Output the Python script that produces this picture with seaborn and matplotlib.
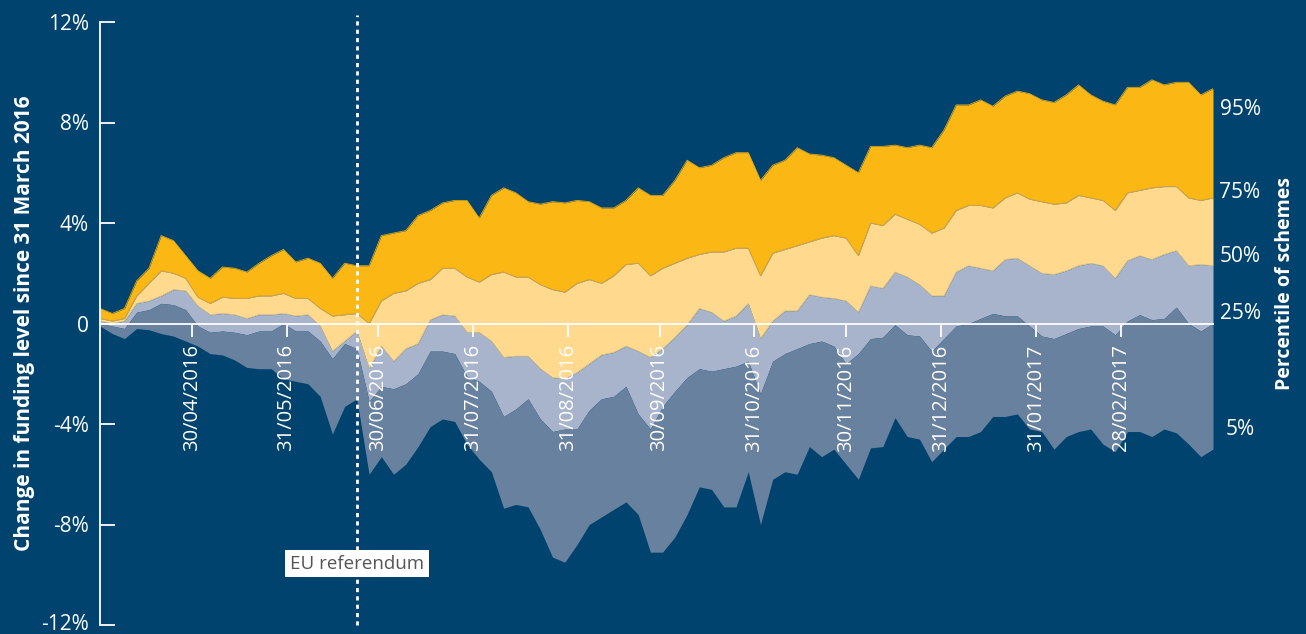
import pandas as pd
import seaborn as sns
import matplotlib.pyplot as plt
import matplotlib.transforms as mtransforms

# Percentiles of the change in funding level (%), read every 4 days from 31/03/2016
dates = pd.date_range("2016-03-31", periods=92, freq="4D")
p95 = [0.6, 0.4, 0.6, 1.7, 2.2, 3.5, 3.3, 2.7, 2.1, 1.8,
       2.25, 2.2, 2.05, 2.4, 2.7, 2.95, 2.45, 2.6, 2.4, 1.8,
       2.4, 2.3, 2.3, 3.5, 3.6, 3.7, 4.3, 4.5, 4.8, 4.9,
       4.9, 4.2, 5.1, 5.4, 5.2, 4.85, 4.75, 4.85, 4.8, 4.9,
       4.85, 4.6, 4.6, 4.9, 5.4, 5.1, 5.1, 5.7, 6.5, 6.2,
       6.3, 6.6, 6.8, 6.8, 5.7, 6.3, 6.5, 7.0, 6.75, 6.7,
       6.6, 6.3, 6.0, 7.05, 7.05, 7.1, 7.0, 7.1, 7.0, 7.7,
       8.7, 8.7, 8.9, 8.65, 9.05, 9.25, 9.15, 8.9, 8.8, 9.1,
       9.5, 9.1, 8.85, 8.7, 9.4, 9.4, 9.7, 9.5, 9.6, 9.6,
       9.1, 9.35]
p75 = [0.2, 0.1, 0.2, 1.1, 1.6, 2.1, 2.0, 1.8, 1.05, 0.8,
       1.05, 1.0, 1.0, 1.1, 1.1, 1.2, 1.0, 1.0, 0.6, 0.3,
       0.35, 0.4, 0.0, 0.9, 1.2, 1.3, 1.6, 1.75, 2.2, 2.2,
       1.85, 1.65, 1.95, 2.05, 1.85, 1.85, 1.55, 1.35, 1.25, 1.6,
       1.75, 1.6, 1.9, 2.35, 2.4, 1.9, 2.2, 2.4, 2.6, 2.75,
       2.85, 2.85, 3.0, 3.0, 1.9, 2.8, 2.95, 3.1, 3.25, 3.4,
       3.5, 3.4, 2.7, 4.0, 3.9, 4.35, 4.15, 3.95, 3.6, 3.8,
       4.5, 4.7, 4.7, 4.6, 5.0, 5.2, 4.95, 4.85, 4.75, 4.8,
       5.1, 5.0, 4.9, 4.5, 5.2, 5.3, 5.4, 5.45, 5.45, 5.0,
       4.9, 5.0]
p50 = [0.1, 0.0, 0.1, 0.8, 0.9, 1.1, 1.35, 1.3, 0.7, 0.35,
       0.4, 0.35, 0.2, 0.35, 0.35, 0.4, 0.3, 0.35, -0.1, -1.1,
       -0.7, -0.3, -1.8, -0.9, -1.5, -1.0, -0.8, 0.15, 0.35, 0.3,
       -0.35, -0.35, -0.7, -1.35, -1.3, -1.3, -1.8, -2.15, -2.2, -1.95,
       -1.6, -1.25, -1.15, -0.9, -1.1, -1.35, -1.0, -0.55, -0.05, 0.6,
       0.45, 0.1, 0.3, 0.8, -0.6, 0.1, 0.5, 0.5, 1.15, 1.05,
       1.0, 0.9, 0.45, 1.5, 1.4, 2.05, 1.85, 1.55, 1.1, 1.1,
       2.05, 2.3, 2.2, 2.1, 2.55, 2.6, 2.3, 2.0, 1.95, 2.1,
       2.3, 2.4, 2.3, 1.8, 2.5, 2.7, 2.55, 2.75, 2.9, 2.3,
       2.35, 2.3]
p25 = [0.0, -0.1, -0.2, 0.45, 0.55, 0.8, 0.75, 0.55, -0.1, -0.35,
       -0.3, -0.35, -0.45, -0.3, -0.3, 0.0, -0.3, -0.3, -0.7, -1.4,
       -0.8, -1.0, -3.1, -2.5, -2.6, -2.4, -2.0, -1.1, -1.1, -1.2,
       -2.1, -2.3, -2.7, -3.7, -3.4, -3.0, -3.8, -4.3, -4.2, -4.2,
       -3.45, -3.0, -2.9, -2.5, -3.6, -4.2, -3.3, -2.7, -2.15, -1.8,
       -1.9, -1.8, -1.7, -1.5, -2.8, -1.5, -1.2, -1.0, -0.8, -0.7,
       -0.9, -1.6, -1.2, -0.6, -0.55, -0.05, -0.45, -0.5, -1.1, -0.6,
       -0.1, 0.0, 0.2, 0.4, 0.3, 0.3, -0.1, -0.5, -0.6, -0.4,
       -0.2, -0.1, -0.1, -0.45, 0.1, 0.35, 0.15, 0.2, 0.65, 0.0,
       -0.3, 0.0]
p5 = [-0.1, -0.4, -0.6, -0.2, -0.25, -0.4, -0.5, -0.7, -0.9, -1.2,
      -1.25, -1.45, -1.75, -1.8, -1.8, -2.2, -2.3, -2.4, -2.9, -4.4,
      -3.3, -3.0, -6.0, -5.3, -6.0, -5.6, -4.9, -4.1, -3.8, -3.9,
      -4.8, -5.4, -5.9, -7.35, -7.2, -7.3, -8.2, -9.3, -9.5, -8.8,
      -8.0, -7.7, -7.4, -7.1, -7.6, -9.1, -9.1, -8.5, -7.6, -6.5,
      -6.6, -7.3, -7.3, -5.9, -8.0, -6.2, -5.9, -6.0, -4.9, -5.3,
      -5.0, -5.6, -6.2, -4.95, -4.9, -3.75, -4.5, -4.6, -5.5, -5.0,
      -4.5, -4.5, -4.3, -3.7, -3.7, -3.6, -4.2, -4.3, -5.0, -4.5,
      -4.3, -4.2, -4.8, -5.1, -4.3, -4.3, -4.5, -4.2, -4.35, -4.8,
      -5.3, -5.0]

tick_dates = pd.to_datetime(["2016-04-30", "2016-05-31", "2016-06-30", "2016-07-31",
                             "2016-08-31", "2016-09-30", "2016-10-31", "2016-11-30",
                             "2016-12-31", "2017-01-31", "2017-02-28"])
y_ticks = [-12, -8, -4, 0, 4, 8, 12]
y_tick_labels = ["-12%", "-8%", "-4%", "0", "4%", "8%", "12%"]
pct_labels = ["95%", "75%", "50%", "25%", "5%"]
pct_label_y = [8.5, 5.2, 2.65, 0.4, -4.2]
referendum = pd.Timestamp("2016-06-23")

df = pd.DataFrame({"date": dates, "p95": p95, "p75": p75, "p50": p50, "p25": p25, "p5": p5})

bg = "#00436E"
gold = "#FBB814"
light_yellow = "#FFD98E"
light_grey = "#A7B4CB"
slate = "#67819F"

sns.set_theme(style="white", rc={"figure.facecolor": bg, "axes.facecolor": bg,
                                 "savefig.facecolor": bg, "text.color": "white"})
plt.rcParams["font.family"] = ["Open Sans", "DejaVu Sans"]

fig = plt.figure(figsize=(13.06, 6.34), dpi=100)
ax = fig.add_axes([100 / 1306, 9 / 634, 1113 / 1306, 603 / 634])
ax.set_axisbelow(False)

# bands between percentiles, top to bottom
bands = [("p75", "p95", gold), ("p50", "p75", light_yellow),
         ("p25", "p50", light_grey), ("p5", "p25", slate)]
for lo, hi, c in bands:
    ax.fill_between(df["date"], df[lo], df[hi], color=c, lw=0, zorder=1)

# thin edges between the yellow bands
sns.lineplot(data=df, x="date", y="p95", color="#E0A718", lw=0.6, ax=ax, zorder=1.2)
sns.lineplot(data=df, x="date", y="p75", color="#C9A24A", lw=0.7, ax=ax, zorder=1.2)
sns.lineplot(data=df, x="date", y="p50", color="#C9B98C", lw=0.5, ax=ax, zorder=1.2)

ax.axvline(referendum, ymin=0, ymax=1.0116, color="white", lw=2.0,
           ls=(0, (1.5, 1.5)), clip_on=False, zorder=4)
ax.text(referendum, -9.56, "EU referendum", ha="center", va="center", fontsize=13.5,
        color="#555555", zorder=5,
        bbox=dict(boxstyle="square,pad=0.25", fc="white", ec="none"))

ax.set_xlim(dates[0], dates[-1])
ax.set_ylim(-12, 12)
ax.set_xlabel("")
ax.set_ylabel("")

for s in ["top", "right"]:
    ax.spines[s].set_visible(False)
ax.spines["left"].set_color("white")
ax.spines["left"].set_linewidth(1.3)
ax.spines["bottom"].set_position(("data", 0))
ax.spines["bottom"].set_color("white")
ax.spines["bottom"].set_linewidth(1.3)

ax.set_yticks(y_ticks, y_tick_labels)
ax.tick_params(axis="y", direction="in", length=11, width=1.3, colors="white",
               labelsize=15, pad=8, left=True)
ax.set_xticks(tick_dates, [d.strftime("%d/%m/%Y") for d in tick_dates], rotation=90)
ax.tick_params(axis="x", direction="out", length=9, width=1.3, colors="white",
               labelsize=14.5, pad=6, bottom=True)

# nudge the bottom tick label up so it is not clipped by the figure edge
lab0 = ax.get_yticklabels()[0]
lab0.set_transform(lab0.get_transform() + mtransforms.ScaledTranslation(0, 3 / 100, fig.dpi_scale_trans))

for lab, yv in zip(pct_labels, pct_label_y):
    ax.text(1.0243, yv, lab, transform=ax.get_yaxis_transform(), ha="center",
            va="center", fontsize=15, color="white", clip_on=False)

fig.text(25 / 1306, (634 - 323) / 634, "Change in funding level since 31 March 2016",
         rotation=90, ha="center", va="center", fontsize=15, fontweight="bold", color="white")
fig.text(1285 / 1306, (634 - 284) / 634, "Percentile of schemes",
         rotation=90, ha="center", va="center", fontsize=14, fontweight="bold", color="white")

fig.savefig("out.png", dpi=100, facecolor=bg)
